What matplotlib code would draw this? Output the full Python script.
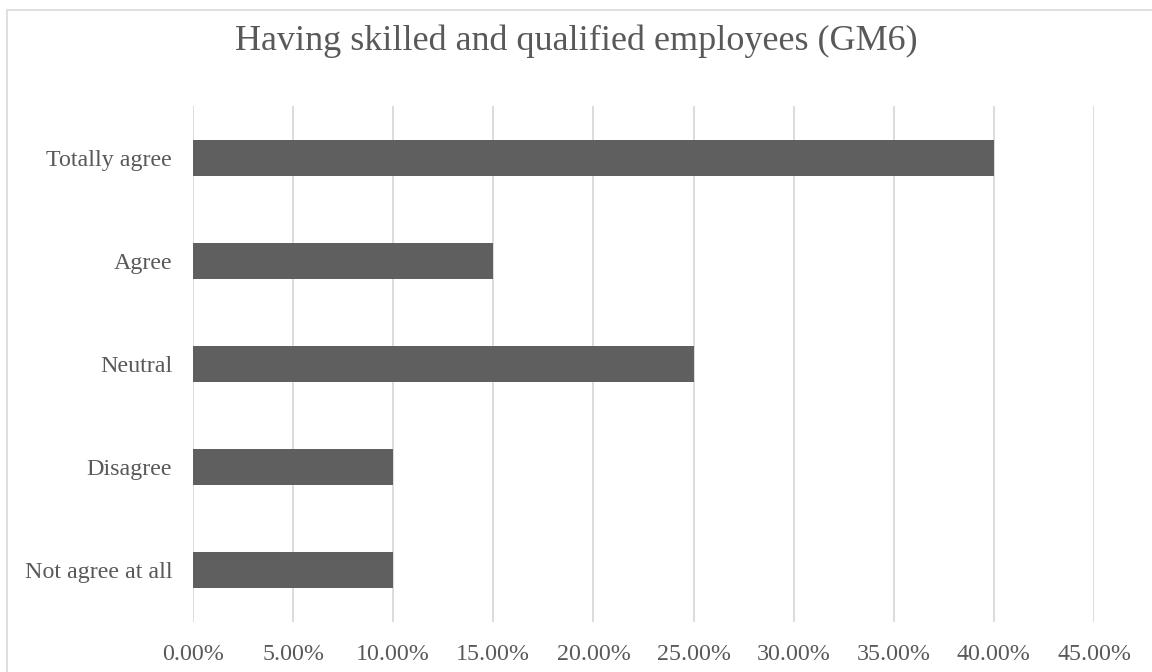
import matplotlib
matplotlib.use("Agg")
import matplotlib.pyplot as plt
from matplotlib.patches import Rectangle
from matplotlib.ticker import FuncFormatter, MultipleLocator

categories = ["Not agree at all", "Disagree", "Neutral", "Agree", "Totally agree"]
values = [0.10, 0.10, 0.25, 0.15, 0.40]
title = "Having skilled and qualified employees (GM6)"

plt.rcParams['font.family'] = ['Liberation Serif', 'DejaVu Serif']

W, H = 1152, 672
fig = plt.figure(figsize=(W/100, H/100), dpi=100)
fig.patch.set_facecolor('white')

# outer chart frame
fig.add_artist(Rectangle((7/W, -0.1), 1.2, (H-10)/H + 0.1, transform=fig.transFigure,
                         fill=False, edgecolor='#d9d9d9', linewidth=1.2))

left, right = 193/W, 1094/W
bottom, top = 1 - 622/H, 1 - 106/H
ax = fig.add_axes([left, bottom, right-left, top-bottom])

y = list(range(len(categories)))
ax.barh(y, values, height=0.35, color='#5f5f5f', zorder=3)
ax.set_ylim(-0.5, len(categories)-0.5)
ax.set_xlim(0, 0.45)
ax.xaxis.set_major_locator(MultipleLocator(0.05))
ax.xaxis.set_major_formatter(FuncFormatter(lambda v, p: f"{v*100:.2f}%"))
ax.set_yticks(y)
ax.set_yticklabels(categories)
ax.grid(axis='x', color='#d9d9d9', linewidth=1.3, zorder=0)
for s in ax.spines.values():
    s.set_visible(False)
ax.tick_params(axis='both', length=0, colors='#595959', labelsize=17.3)
ax.tick_params(axis='x', pad=15.5)
ax.tick_params(axis='y', pad=15)

fig.text(0.5, 1 - 41/H, title, ha='center', va='center', fontsize=26, color='#595959')

fig.savefig("out.png", dpi=100)
